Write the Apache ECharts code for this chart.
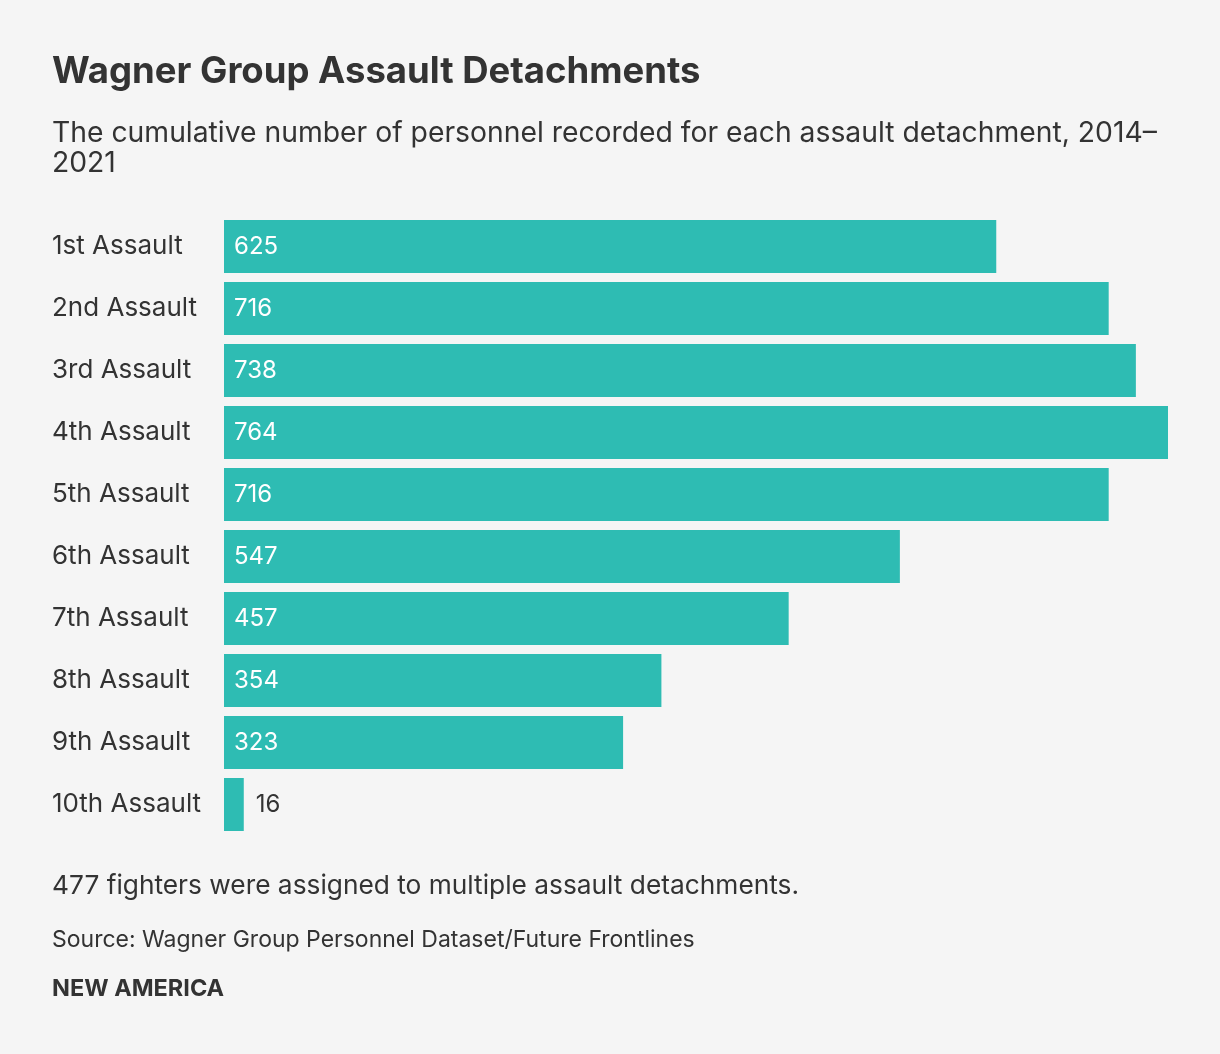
<!DOCTYPE html>
<html><head><meta charset="utf-8">
<script src="https://cdn.jsdelivr.net/npm/echarts@6/dist/echarts.min.js"></script>
<style>html,body{margin:0;padding:0;background:#f5f5f5}#c{width:1220px;height:1054px}</style>
</head><body><div id="c"></div>
<script>
const categories = ['1st Assault','2nd Assault','3rd Assault','4th Assault','5th Assault','6th Assault','7th Assault','8th Assault','9th Assault','10th Assault'];
const values = [625,716,738,764,716,547,457,354,323,16];
const FONT = 'Inter, "Noto Sans", sans-serif';
const chart = echarts.init(document.getElementById('c'));
const dataItems = values.map(v => v < 50 ? {value:v, label:{position:'right', color:'#333', distance:12}} : {value:v});
chart.setOption({
  backgroundColor:'#f5f5f5',
  animation:false,
  graphic:[
    {type:'text', left:52, top:54, style:{text:'Wagner Group Assault Detachments', font:'bold 36.5px '+FONT, fill:'#333'}},
    {type:'text', left:52, top:118, style:{text:'The cumulative number of personnel recorded for each assault detachment, 2014–\n2021', font:'28.3px '+FONT, fill:'#333', lineHeight:30}},
    {type:'text', left:52, top:873, style:{text:'477 fighters were assigned to multiple assault detachments.', font:'26.3px '+FONT, fill:'#333'}},
    {type:'text', left:52, top:929, style:{text:'Source: Wagner Group Personnel Dataset/Future Frontlines', font:'23px '+FONT, fill:'#333'}},
    {type:'text', left:52, top:977, style:{text:'NEW AMERICA', font:'bold 23.5px '+FONT, fill:'#333'}}
  ],
  grid:{left:224, right:52, top:215.5, height:620, containLabel:false},
  xAxis:{type:'value', min:0, max:764, show:false},
  yAxis:{type:'category', data:categories, inverse:true,
    axisLine:{show:false}, axisTick:{show:false}, splitLine:{show:false},
    axisLabel:{align:'left', margin:172, fontSize:26, color:'#333', fontFamily:FONT}},
  series:[{type:'bar', data:dataItems, barCategoryGap:'14.5%',
    itemStyle:{color:'#2ebcb3'},
    label:{show:true, position:'insideLeft', distance:10, color:'#fff', fontSize:24, fontFamily:FONT}}]
});
</script></body></html>
